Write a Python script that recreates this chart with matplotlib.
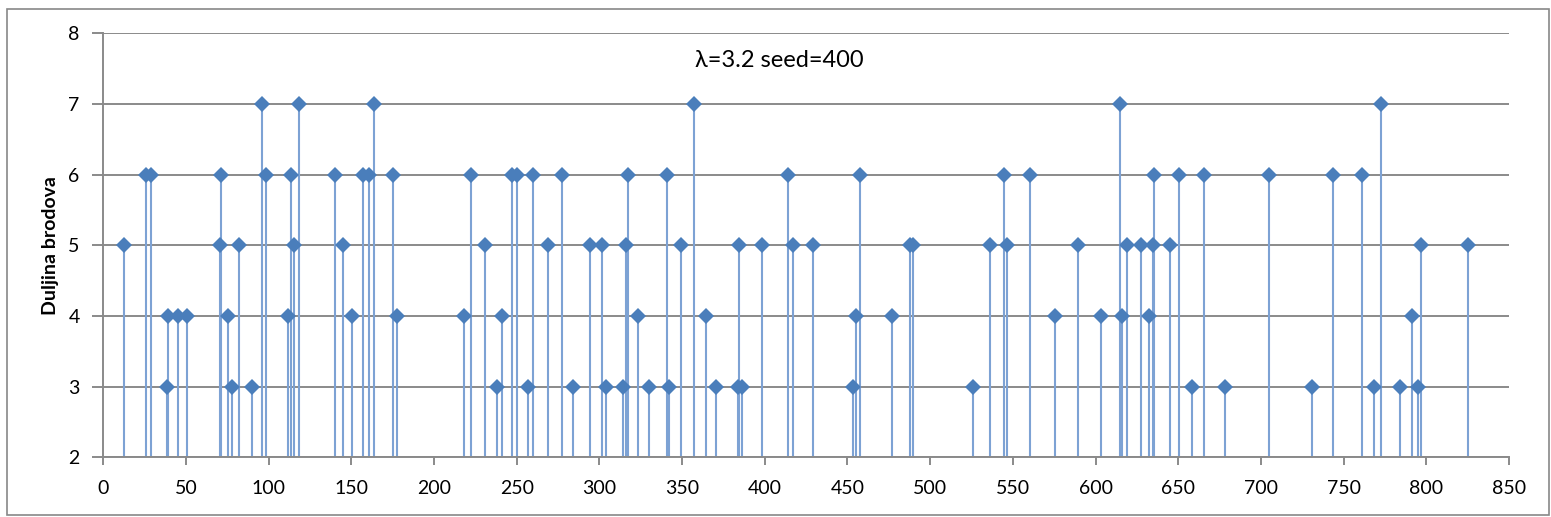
import matplotlib
matplotlib.use("Agg")
import matplotlib.pyplot as plt
from matplotlib.patches import Rectangle

plt.rcParams['font.family'] = ['Lato', 'DejaVu Sans']

# Ship arrival positions and ship lengths
positions = [12.3, 25.6, 28.8, 38.5, 39.1, 45.4, 50.8, 70.4, 71.2, 75.6,
             77.8, 81.9, 90.1, 96.2, 98.2, 111.9, 113.7, 115.1, 118.1, 139.9,
             144.9, 150.2, 157.2, 160.8, 163.5, 175.0, 177.8, 218.3, 222.3, 231.0,
             238.2, 241.3, 247.3, 250.3, 257.0, 260.0, 269.1, 277.4, 283.8, 294.1,
             301.4, 304.2, 314.1, 316.1, 317.1, 323.1, 330.2, 340.9, 342.1, 349.1,
             357.2, 364.3, 370.5, 383.5, 384.2, 386.0, 398.5, 414.2, 417.0, 428.9,
             453.1, 455.1, 457.4, 477.1, 488.0, 489.6, 526.1, 536.4, 544.6, 546.2,
             560.2, 575.5, 589.2, 603.5, 615.0, 616.2, 619.2, 627.3, 632.5, 634.5,
             635.2, 645.2, 650.2, 658.5, 665.8, 678.3, 705.1, 731.1, 743.6, 761.1,
             768.3, 772.4, 784.1, 791.2, 795.2, 796.9, 825.4]
lengths = [5, 6, 6, 3, 4, 4, 4, 5, 6, 4,
           3, 5, 3, 7, 6, 4, 6, 5, 7, 6,
           5, 4, 6, 6, 7, 6, 4, 4, 6, 5,
           3, 4, 6, 6, 3, 6, 5, 6, 3, 5,
           5, 3, 3, 5, 6, 4, 3, 6, 3, 5,
           7, 4, 3, 3, 5, 3, 5, 6, 5, 5,
           3, 4, 6, 4, 5, 5, 3, 5, 6, 5,
           6, 4, 5, 4, 7, 4, 5, 5, 4, 5,
           6, 5, 6, 3, 6, 3, 6, 3, 6, 6,
           3, 7, 3, 4, 3, 5, 5]

x_ticks = list(range(0, 851, 50))
y_ticks = list(range(2, 9))
y_label = "Duljina brodova"
annotation = "λ=3.2 seed=400"

W, H, DPI = 1551, 517, 100
fig = plt.figure(figsize=(W / DPI, H / DPI), dpi=DPI)
fig.patch.set_facecolor('white')

# outer chart frame
fig.patches.append(Rectangle((7 / W, 2 / H), (W - 9) / W, (H - 11) / H,
                             transform=fig.transFigure, fill=False,
                             edgecolor='#888888', linewidth=1.2))

ax = fig.add_axes([103.3 / W, (H - 457.3) / H, (1509 - 103.3) / W, (457.3 - 33.3) / H])

grid_col = '#8a8a8a'
ax.set_xlim(0, 850)
ax.set_ylim(2, 8)
ax.set_xticks(x_ticks)
ax.set_yticks(y_ticks)
ax.yaxis.grid(True, color=grid_col, linewidth=1.4)
ax.set_axisbelow(True)

for side in ('top', 'right'):
    ax.spines[side].set_visible(False)
for side in ('left', 'bottom'):
    ax.spines[side].set_color(grid_col)
    ax.spines[side].set_linewidth(1.4)

ax.tick_params(axis='both', colors=grid_col, labelcolor='black', labelsize=14,
               width=1.4)
ax.tick_params(axis='y', length=8, pad=9)
ax.tick_params(axis='x', length=6, pad=10)

ax.vlines(positions, 2, lengths, colors='#7da2d4', linewidth=1.5, zorder=2)
ax.plot(positions, lengths, linestyle='none', marker='D', markersize=8.2,
        markerfacecolor='#4a7ebb', markeredgewidth=0, zorder=3, clip_on=False)

ax.text(408.6, 7.62, annotation, ha='center', va='center', fontsize=17,
        color='black')
ax.set_ylabel(y_label, fontsize=14, fontweight='bold', labelpad=7)

fig.savefig('out.png', dpi=DPI, facecolor='white')
